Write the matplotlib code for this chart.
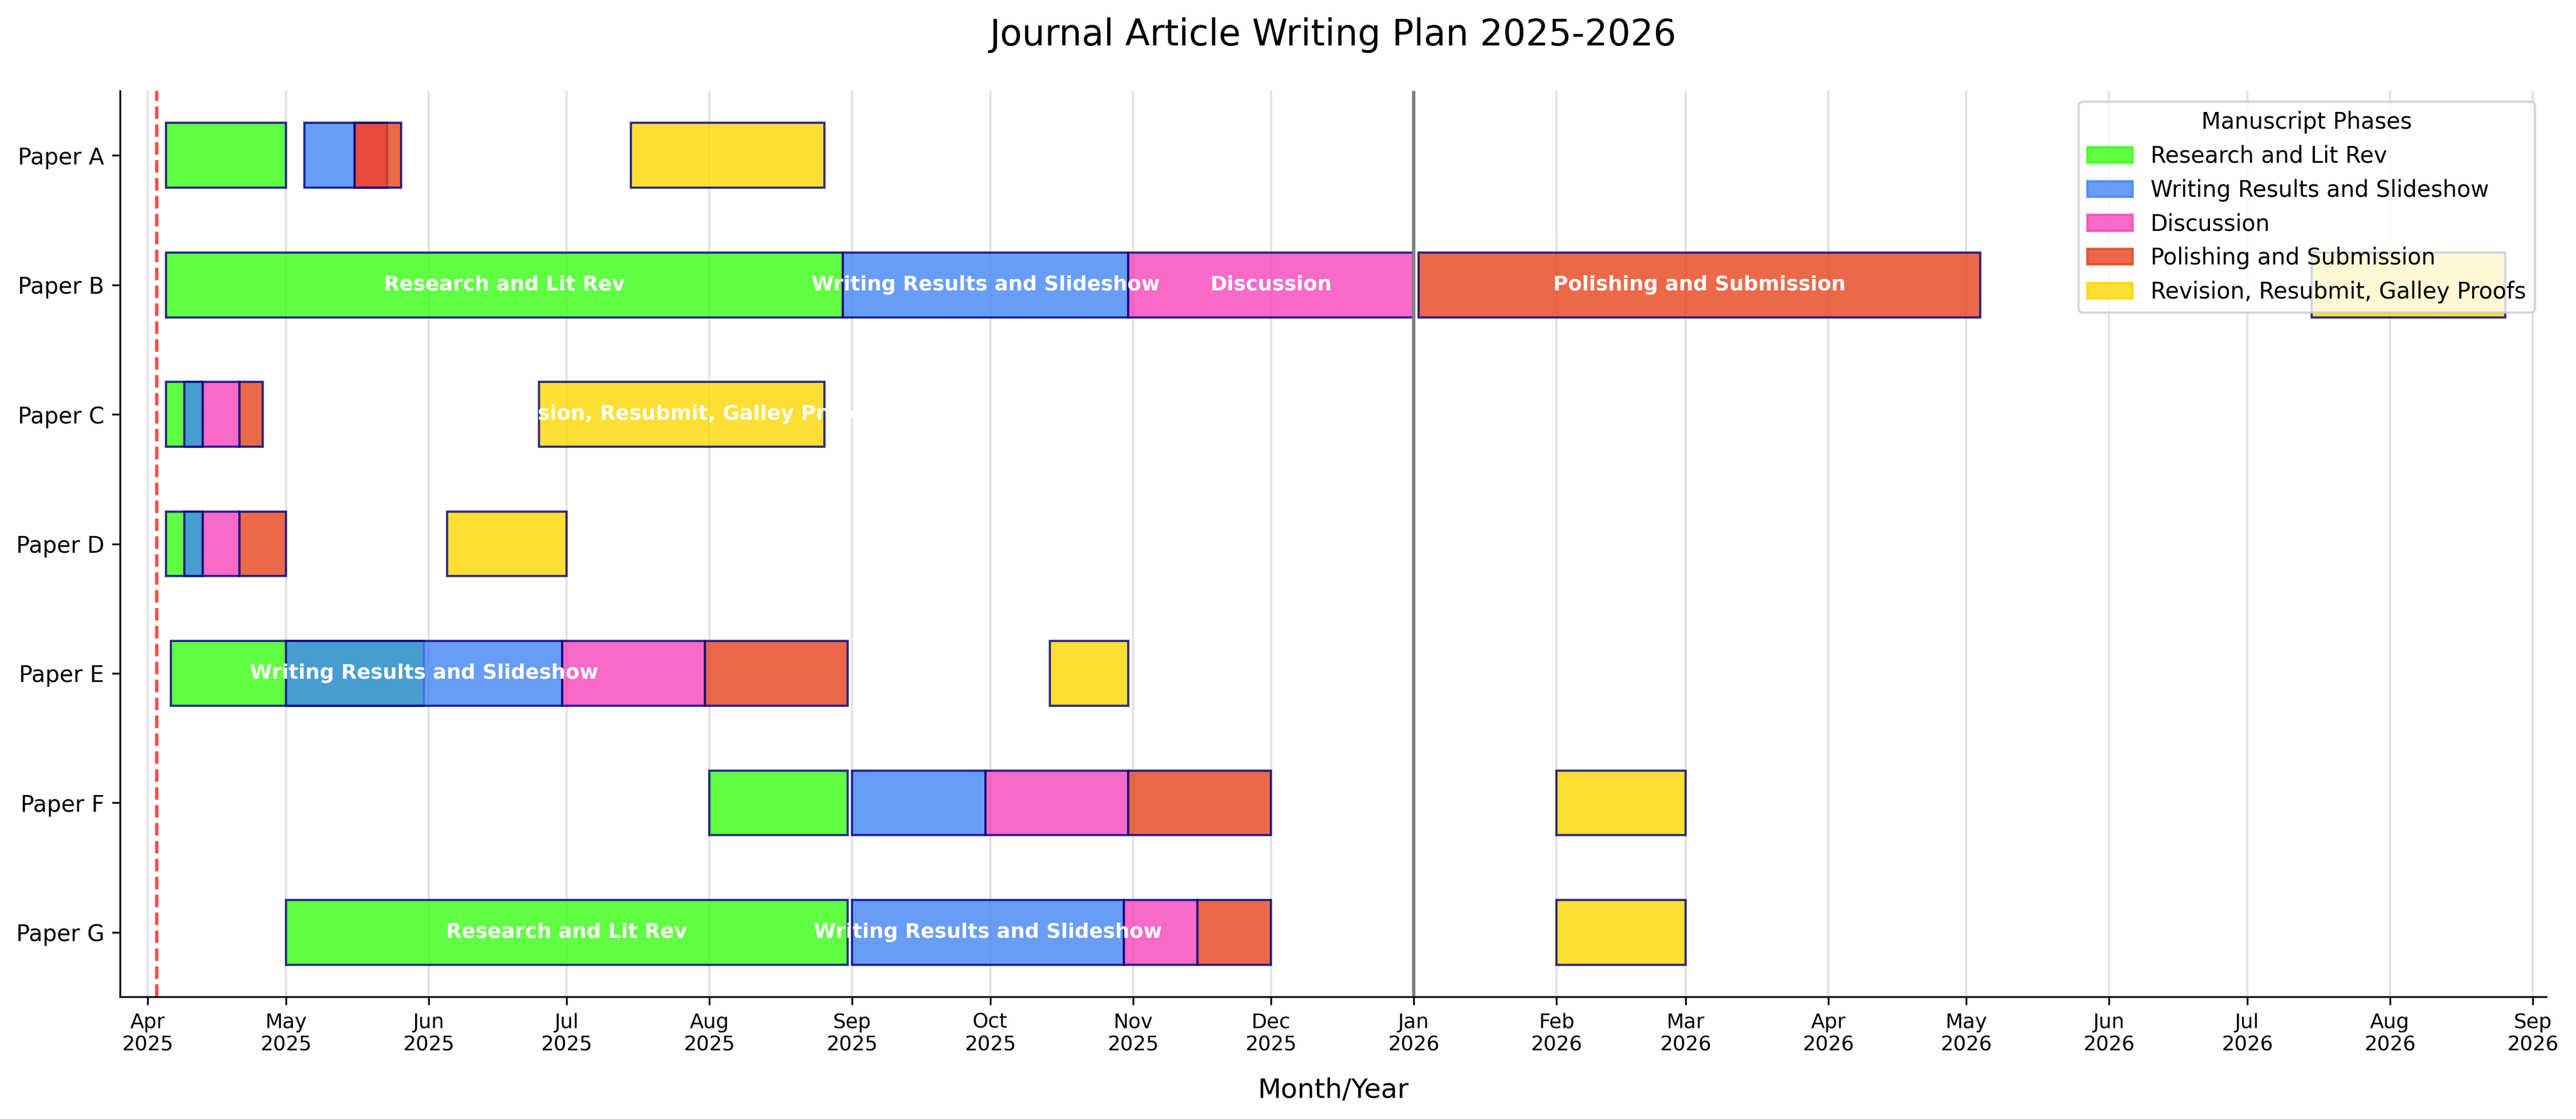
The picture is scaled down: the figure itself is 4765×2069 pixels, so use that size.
import matplotlib
matplotlib.use('Agg')
import matplotlib.pyplot as plt
import matplotlib.dates as mdates
from matplotlib.patches import Patch
import pandas as pd

# papers top to bottom, phases in drawing order
papers = ['Paper A', 'Paper B', 'Paper C', 'Paper D', 'Paper E', 'Paper F', 'Paper G']
phases = ['Research and Lit Rev', 'Writing Results and Slideshow', 'Discussion',
          'Polishing and Submission', 'Revision, Resubmit, Galley Proofs']
phase_colors = ['#39FF14', '#4285F4', '#F545BA', '#E6431A', '#FFD700']

# (start, end) of each phase, same order as phases
paper_a = [('2025-04-05', '2025-05-01'), ('2025-05-05', '2025-05-16'), ('2025-05-16', '2025-05-23'),
           ('2025-05-16', '2025-05-26'), ('2025-07-15', '2025-08-26')]
paper_b = [('2025-04-05', '2025-08-30'), ('2025-08-30', '2025-10-31'), ('2025-10-31', '2026-01-01'),
           ('2026-01-02', '2026-05-04'), ('2026-07-15', '2026-08-26')]
paper_c = [('2025-04-05', '2025-04-13'), ('2025-04-09', '2025-04-13'), ('2025-04-13', '2025-04-21'),
           ('2025-04-21', '2025-04-26'), ('2025-06-25', '2025-08-26')]
paper_d = [('2025-04-05', '2025-04-13'), ('2025-04-09', '2025-04-13'), ('2025-04-13', '2025-04-21'),
           ('2025-04-21', '2025-05-01'), ('2025-06-05', '2025-07-01')]
paper_e = [('2025-04-06', '2025-05-31'), ('2025-05-01', '2025-06-30'), ('2025-06-30', '2025-07-31'),
           ('2025-07-31', '2025-08-31'), ('2025-10-14', '2025-10-31')]
paper_f = [('2025-08-01', '2025-08-31'), ('2025-09-01', '2025-09-30'), ('2025-09-30', '2025-10-31'),
           ('2025-10-31', '2025-12-01'), ('2026-02-01', '2026-03-01')]
paper_g = [('2025-05-01', '2025-08-31'), ('2025-09-01', '2025-10-30'), ('2025-10-30', '2025-11-15'),
           ('2025-11-15', '2025-12-01'), ('2026-02-01', '2026-03-01')]
schedules = [paper_a, paper_b, paper_c, paper_d, paper_e, paper_f, paper_g]

today = '2025-04-03'
year_break = '2026-01-01'
label_min_days = 57  # only long phases get a text label

fig, ax = plt.subplots(figsize=(4765 / 300, 2069 / 300), dpi=300)
fig.subplots_adjust(left=0.0466, right=0.9885, top=0.919, bottom=0.109)

for row, sched in enumerate(schedules):
    for k, (s, e) in enumerate(sched):
        start = pd.Timestamp(s)
        end = pd.Timestamp(e)
        ax.barh(row, mdates.date2num(end) - mdates.date2num(start), left=mdates.date2num(start),
                height=0.5, color=phase_colors[k], edgecolor='navy', linewidth=1, alpha=0.8)
        if (end - start).days >= label_min_days:
            mid = mdates.date2num(start) + (mdates.date2num(end) - mdates.date2num(start)) / 2
            ax.text(mid, row, phases[k], ha='center', va='center', color='white',
                    fontweight='bold', fontsize=9)

ax.axvline(mdates.date2num(pd.Timestamp(today)), color='red', linestyle='--', linewidth=1.5, alpha=0.7)
ax.axvline(mdates.date2num(pd.Timestamp(year_break)), color='gray', linewidth=1.5)

ax.set_yticks(range(len(papers)))
ax.set_yticklabels(papers, fontsize=10)
ax.set_ylim(6.5, -0.5)
ax.set_xlim(mdates.date2num(pd.Timestamp('2025-03-26')), mdates.date2num(pd.Timestamp('2026-09-04')))

ax.xaxis.set_major_locator(mdates.MonthLocator())
ax.xaxis.set_major_formatter(mdates.DateFormatter('%b\n%Y'))
ax.tick_params(axis='x', labelsize=9)
ax.grid(axis='x', color='#e3e3e3', linewidth=1)
ax.set_axisbelow(True)

ax.spines['top'].set_visible(False)
ax.spines['right'].set_visible(False)

ax.set_title('Journal Article Writing Plan 2025-2026', fontsize=16, pad=20)
ax.set_xlabel('Month/Year', fontsize=12, labelpad=10)

handles = [Patch(facecolor=c, edgecolor=c, alpha=0.8, label=p) for c, p in zip(phase_colors, phases)]
ax.legend(handles=handles, title='Manuscript Phases', loc='upper right', fontsize=10, title_fontsize=10)

fig.savefig('out.png', dpi=300)
